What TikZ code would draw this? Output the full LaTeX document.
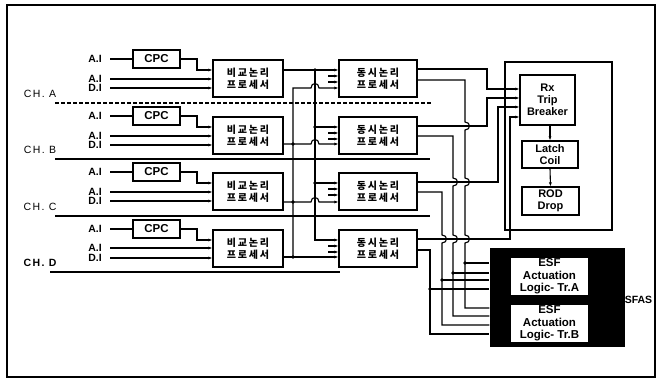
\documentclass[tikz,border=0pt]{standalone}
\usepackage{fontspec}
\setmainfont{Liberation Sans}
\newfontfamily\kr[LetterSpace=18]{Noto Sans CJK KR}
\newfontfamily\chfont[LetterSpace=14]{Liberation Sans}
\usetikzlibrary{arrows.meta}
\tikzset{
  box/.style={draw, line width=1.1pt, inner sep=0pt, align=center},
  cpcbox/.style={box, minimum width=47pt, minimum height=18pt, font=\bfseries\fontsize{11.5}{12}\selectfont},
  procbox/.style={box, minimum width=70pt, minimum height=37pt, font=\kr\bfseries\fontsize{10}{12}\selectfont},
  coinbox/.style={procbox, minimum width=78pt},
  io/.style={inner sep=0pt, font=\bfseries\fontsize{10.5}{10}\selectfont},
  chname/.style={inner sep=0pt, font=\chfont\fontsize{10.5}{11}\selectfont},
  tripbox/.style={box, font=\bfseries\fontsize{11}{12}\selectfont},
  esfbox/.style={fill=white, align=center, inner sep=0pt, minimum width=77pt, minimum height=37pt, font=\bfseries\fontsize{11.5}{12.5}\selectfont},
  wire/.style={line width=1.1pt},
}
\begin{document}
\begin{tikzpicture}[x=1pt, y=-1pt, >={Latex[length=4pt,width=3pt]}, wire]
\useasboundingbox (0,0) rectangle (659,379);
\draw[line width=1.1pt] (7,5) rectangle (655,377);
% channel A
\begin{scope}
\node[io] (ai1A) at (95,59) {A.I};
\node[io] (ai2A) at (95,79) {A.I};
\node[io] (diA) at (95,88) {D.I};
\node[chname] (chA) at (40,94) {CH. A};
\node[cpcbox] (cpcA) at (156.5,59) {CPC};
\node[procbox] (cmpA) at (248,78.5) {비교논리\\프로세서};
\node[coinbox] (coinA) at (378,78.5) {동시논리\\프로세서};
\draw[shorten <=8pt] (ai1A.east) -- (cpcA.west |- ai1A.east);
\draw[->] (cpcA.east) -- (197,59) |- (cmpA.west |- 0,70);
\draw[->, shorten <=8pt] (ai2A.east) -- (ai2A.east -| cmpA.west);
\draw[->, shorten <=8pt] (diA.east) -- (diA.east -| cmpA.west);
\draw[->] (328,76) -- (coinA.west |- 0,76);
\draw[->] (328,82) -- (coinA.west |- 0,82);
\end{scope}
% channel B
\begin{scope}[yshift=-57pt]
\node[io] (ai1B) at (95,59) {A.I};
\node[io] (ai2B) at (95,79) {A.I};
\node[io] (diB) at (95,88) {D.I};
\node[chname] (chB) at (40,93) {CH. B};
\node[cpcbox] (cpcB) at (156.5,59) {CPC};
\node[procbox] (cmpB) at (248,78.5) {비교논리\\프로세서};
\node[coinbox] (coinB) at (378,78.5) {동시논리\\프로세서};
\draw[shorten <=8pt] (ai1B.east) -- (cpcB.west |- ai1B.east);
\draw[->] (cpcB.east) -- (197,59) |- (cmpB.west |- 0,70);
\draw[->, shorten <=8pt] (ai2B.east) -- (ai2B.east -| cmpB.west);
\draw[->, shorten <=8pt] (diB.east) -- (diB.east -| cmpB.west);
\draw[->] (328,76) -- (coinB.west |- 0,76);
\draw[->] (328,82) -- (coinB.west |- 0,82);
\end{scope}
% channel C
\begin{scope}[yshift=-113pt]
\node[io] (ai1C) at (95,59) {A.I};
\node[io] (ai2C) at (95,79) {A.I};
\node[io] (diC) at (95,88) {D.I};
\node[chname] (chC) at (40,94) {CH. C};
\node[cpcbox] (cpcC) at (156.5,59) {CPC};
\node[procbox] (cmpC) at (248,78.5) {비교논리\\프로세서};
\node[coinbox] (coinC) at (378,78.5) {동시논리\\프로세서};
\draw[shorten <=8pt] (ai1C.east) -- (cpcC.west |- ai1C.east);
\draw[->] (cpcC.east) -- (197,59) |- (cmpC.west |- 0,70);
\draw[->, shorten <=8pt] (ai2C.east) -- (ai2C.east -| cmpC.west);
\draw[->, shorten <=8pt] (diC.east) -- (diC.east -| cmpC.west);
\draw[->] (328,76) -- (coinC.west |- 0,76);
\draw[->] (328,82) -- (coinC.west |- 0,82);
\end{scope}
% channel D
\begin{scope}[yshift=-170pt]
\node[io] (ai1D) at (95,59) {A.I};
\node[io] (ai2D) at (95,78) {A.I};
\node[io] (diD) at (95,88) {D.I};
\node[chname, font=\chfont\bfseries\fontsize{10.5}{11}\selectfont] (chD) at (40,93) {CH. D};
\node[cpcbox] (cpcD) at (156.5,59) {CPC};
\node[procbox] (cmpD) at (248,78.5) {비교논리\\프로세서};
\node[coinbox] (coinD) at (378,78.5) {동시논리\\프로세서};
\draw[shorten <=8pt] (ai1D.east) -- (cpcD.west |- ai1D.east);
\draw[->] (cpcD.east) -- (197,59) |- (cmpD.west |- 0,70);
\draw[->, shorten <=8pt] (ai2D.east) -- (ai2D.east -| cmpD.west);
\draw[->, shorten <=8pt] (diD.east) -- (diD.east -| cmpD.west);
\draw[->] (328,76) -- (coinD.west |- 0,76);
\draw[->] (328,82) -- (coinD.west |- 0,82);
\end{scope}
% channel borders
\draw[dash pattern=on 4pt off 2pt] (55,103) -- (432,103);
\draw (55,159) -- (430,159);
\draw (55,216) -- (430,216);
\draw (50,272) -- (340,272);
% bus from comparison to coincidence logic
\draw[->] (cmpA.east |- 0,70) -- (coinA.west |- 0,70);
\draw[->] (315,70) |- (coinD.west |- 0,240);
\draw[->] (315,127) -- (coinB.west |- 0,127);
\draw[->] (315,183) -- (coinC.west |- 0,183);
\draw[->] (293,257) -- (293,88) -- (311,88) .. controls (311,82) and (319,82) .. (319,88) -- (coinA.west |- 0,88);
\draw[->] (cmpB.east |- 0,144) -- (311,144) .. controls (311,138) and (319,138) .. (319,144) -- (coinB.west |- 0,144);
\draw[->] (cmpC.east |- 0,202) -- (311,202) .. controls (311,196) and (319,196) .. (319,202) -- (coinC.west |- 0,202);
\draw[->] (cmpD.east |- 0,257) -- (coinD.west |- 0,257);
\fill (315,70) circle[radius=1.8pt] (315,127) circle[radius=1.8pt] (315,183) circle[radius=1.8pt];
\fill (293,144) circle[radius=1.8pt] (293,202) circle[radius=1.8pt] (293,257) circle[radius=1.8pt];
% reactor trip
\draw[line width=1.1pt] (505,62) rectangle (612,230);
\node[tripbox, minimum width=55pt, minimum height=50pt] (brk) at (547.5,100) {Rx\\Trip\\Breaker};
\node[tripbox, minimum width=56pt, minimum height=27pt] (coil) at (550,154.5) {Latch\\Coil};
\node[tripbox, minimum width=57pt, minimum height=28pt] (rod) at (550.5,201) {ROD\\Drop};
\draw[->] (brk.south -| coil.north) -- (coil.north);
\draw[->] (coil.south) -- (rod.north);
% ESFAS
\node[fill=black, minimum width=135pt, minimum height=99pt, inner sep=0pt] (esfas) at (557.5,297.5) {};
\node[esfbox] (esfA) at (549.5,276.5) {ESF\\Actuation\\Logic- Tr.A};
\node[esfbox] (esfB) at (549.5,323.5) {ESF\\Actuation\\Logic- Tr.B};
\node[font=\bfseries\fontsize{10.5}{11}\selectfont, inner sep=0pt] (esfaslbl) at (635,300) {ESFAS};
% coincidence outputs
\draw[->] (coinA.east |- 0,69) -- (487,69) |- (brk.west |- 0,89);
\draw[->] (coinB.east |- 0,126) -- (487,126) |- (brk.west |- 0,98);
\draw[->] (coinC.east |- 0,182) -- (498,182) |- (brk.west |- 0,107);
\draw[->] (coinD.east |- 0,239) -- (510,239) |- (brk.west |- 0,117);
\draw (coinA.east |- 0,80) -- (465,80) -- (465,122) .. controls (471,122) and (471,130) .. (465,130)
  -- (465,178) .. controls (471,178) and (471,186) .. (465,186)
  -- (465,235) .. controls (471,235) and (471,243) .. (465,243) |- (esfas.west |- 0,308);
\draw (coinB.east |- 0,136) -- (453,136) -- (453,178) .. controls (459,178) and (459,186) .. (453,186)
  -- (453,235) .. controls (459,235) and (459,243) .. (453,243) |- (esfas.west |- 0,316);
\draw (coinC.east |- 0,192) -- (442,192) -- (442,235) .. controls (448,235) and (448,243) .. (442,243) |- (esfas.west |- 0,325);
\draw (coinD.east |- 0,250) -- (430,250) |- (esfas.west |- 0,334);
\draw (465,263) -- (esfas.west |- 0,263);
\draw (453,273) -- (esfas.west |- 0,273);
\draw (442,280) -- (esfas.west |- 0,280);
\draw (430,289) -- (esfas.west |- 0,289);
\fill (465,263) circle[radius=1.8pt] (453,273) circle[radius=1.8pt] (442,280) circle[radius=1.8pt] (430,289) circle[radius=1.8pt];
\end{tikzpicture}
\end{document}
